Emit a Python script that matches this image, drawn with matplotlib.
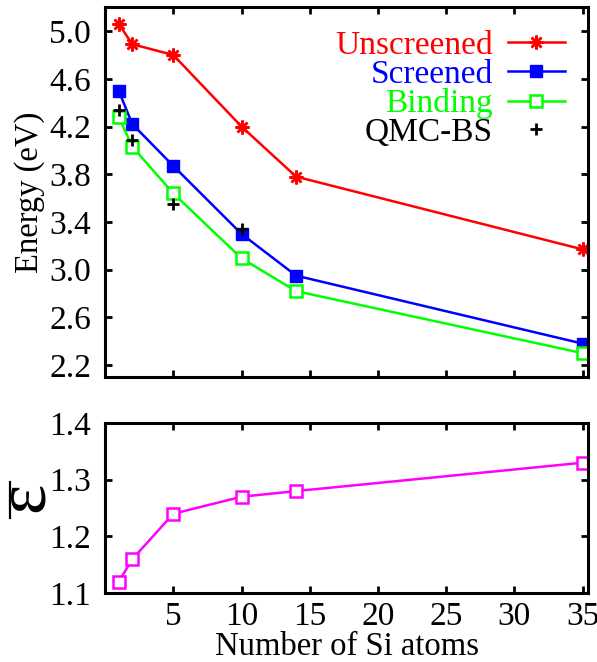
import matplotlib
matplotlib.use('Agg')
import matplotlib.pyplot as plt
from matplotlib.lines import Line2D

n_si = [1, 2, 5, 10, 14, 35]
unscreened = [5.06, 4.89, 4.80, 4.20, 3.78, 3.17]
screened = [4.50, 4.22, 3.87, 3.30, 2.95, 2.38]
binding = [4.28, 4.03, 3.64, 3.095, 2.82, 2.30]
qmc_x = [1, 2, 5, 10]
qmc_bs = [4.34, 4.09, 3.55, 3.34]
eps_bar = [1.12, 1.16, 1.24, 1.27, 1.28, 1.33]

energy_ticks = [2.2, 2.6, 3.0, 3.4, 3.8, 4.2, 4.6, 5.0]
eps_ticks = [1.1, 1.2, 1.3, 1.4]
x_ticks = [5, 10, 15, 20, 25, 30, 35]

plt.rcParams['font.family'] = ['Liberation Serif', 'DejaVu Serif']

W, H = 597, 662
fig = plt.figure(figsize=(W / 100, H / 100), dpi=100)
ax1 = fig.add_axes([0.176, 0.4305, 0.809, 0.5585])
ax2 = fig.add_axes([0.176, 0.104, 0.809, 0.257])

lw = 1.8
ax1.plot(n_si, unscreened, color='#ff0000', lw=lw, marker=(8, 2, 0), ms=10, mew=1.8, label='Unscreened')
ax1.plot(n_si, screened, color='#0000ff', lw=lw, marker='s', ms=9, label='Screened')
ax1.plot(n_si, binding, color='#00ff00', lw=lw, marker='s', ms=9, mfc='white', mew=1.8, label='Binding')
ax1.plot(qmc_x, qmc_bs, color='black', ls='none', marker='+', ms=9, mew=2, label='QMC-BS')

ax2.plot(n_si, eps_bar, color='#ff00ff', lw=lw, marker='s', ms=9, mfc='white', mew=1.8)

for ax in (ax1, ax2):
    ax.set_xlim(0, 35.4)
    ax.set_xticks(x_ticks)
    ax.tick_params(direction='in', top=True, right=True, length=5, width=2, labelsize=24)
    ax.tick_params(axis='y', pad=10)
    ax.tick_params(axis='x', pad=6)
    for s in ax.spines.values():
        s.set_linewidth(2.2)

ax1.set_ylim(2.1, 5.2)
ax1.set_yticks(energy_ticks)
ax1.set_yticklabels(['%.1f' % v for v in energy_ticks])
ax1.tick_params(labelbottom=False)
ax1.set_ylabel('Energy (eV)', fontsize=23.5, labelpad=3)

leg = ax1.legend(loc='upper right', frameon=False, markerfirst=False, fontsize=24,
                 handlelength=1.7, handletextpad=0.45, labelspacing=-0.05,
                 borderaxespad=0.3)
for t, c in zip(leg.get_texts(), ['#ff0000', '#0000ff', '#00ff00', 'black']):
    t.set_color(c)

ax2.set_ylim(1.1, 1.4)
ax2.set_yticks(eps_ticks)
ax2.set_yticklabels(['%.1f' % v for v in eps_ticks])
ax2.set_xlabel('Number of Si atoms', fontsize=23.5, labelpad=0)

# epsilon-bar label: glyph plus a bar over it (bar sits to the left once rotated)
fig.text(61 / W, 1 - 500 / H, r'$\mathregular{ε}$', fontsize=52, rotation=90,
         ha='right', va='center')
fig.add_artist(Line2D([10 / W, 10 / W], [1 - 482 / H, 1 - 518 / H],
                      transform=fig.transFigure, color='black', lw=1.6))

fig.savefig('out.png', dpi=100)
